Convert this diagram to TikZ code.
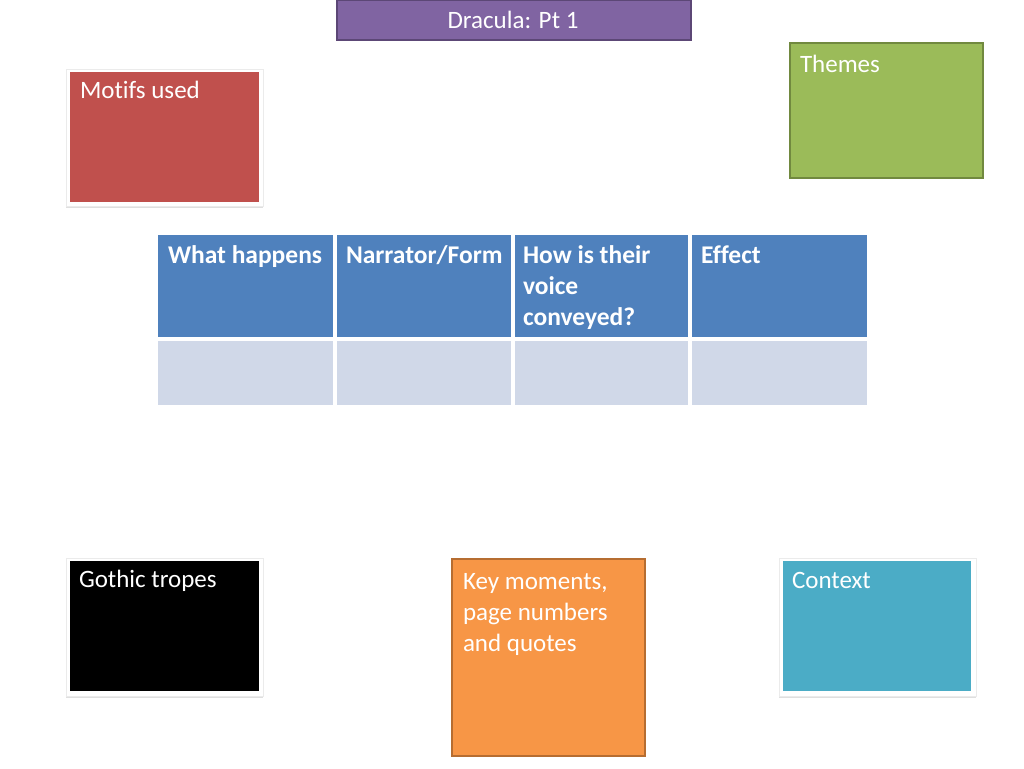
\documentclass[tikz,border=0pt]{standalone}
\usepackage{fontspec}
\setmainfont{Carlito}[Ligatures=NoCommon]
\usetikzlibrary{shadows}
\definecolor{cPurple}{HTML}{8064A2}
\definecolor{cPurpleD}{HTML}{5C4776}
\definecolor{cRed}{HTML}{C0504D}
\definecolor{cGreen}{HTML}{9BBB59}
\definecolor{cGreenD}{HTML}{71893F}
\definecolor{cHead}{HTML}{4F81BD}
\definecolor{cRow}{HTML}{D0D8E8}
\definecolor{cOrange}{HTML}{F79646}
\definecolor{cOrangeD}{HTML}{B66D31}
\definecolor{cCyan}{HTML}{4BACC6}
\tikzset{
  box/.style={rectangle, inner sep=0pt, outer sep=0pt},
  frame/.style={box, fill=white, draw=black!8, line width=0.8pt, drop shadow={opacity=0.25, shadow xshift=0pt, shadow yshift=-2pt}},
  label/.style={inner sep=0pt, outer sep=0pt, anchor=base west, text=white, align=left,
    font=\fontsize{25}{31}\selectfont},
  hlabel/.style={label, font=\fontsize{25.5}{31}\selectfont\bfseries},
  cell/.style={box, fill=cHead},
  rowcell/.style={box, fill=cRow},
}
\begin{document}
\begin{tikzpicture}[x=1pt,y=-1pt]
\useasboundingbox (0,0) rectangle (1024,768);
% title
\node[box, fill=cPurple, draw=cPurpleD, line width=2pt, minimum width=354pt, minimum height=40pt] (title) at (513.5,20.5) {};
\node[label, anchor=base] (titletxt) at (513,29) {Dracula: Pt 1};
% motifs
\node[frame, minimum width=197pt, minimum height=137pt] (motifsF) at (164.5,137.5) {};
\node[box, fill=cRed, minimum width=189pt, minimum height=130pt] (motifs) at (164.5,137) {};
\node[label] (motifstxt) at (80,98) {Motifs used};
% themes
\node[box, fill=cGreen, draw=cGreenD, line width=2pt, minimum width=193pt, minimum height=134pt] (themes) at (886,110.5) {};
\node[label] (themestxt) at (800,72) {Themes};
% table
\node[cell, minimum width=175pt, minimum height=102pt] (h1) at (245.5,286) {};
\node[cell, minimum width=174pt, minimum height=102pt] (h2) at (424,286) {};
\node[cell, minimum width=173pt, minimum height=102pt] (h3) at (601.5,286) {};
\node[cell, minimum width=175pt, minimum height=102pt] (h4) at (779.5,286) {};
\node[rowcell, minimum width=175pt, minimum height=64pt] (r1) at (245.5,373) {};
\node[rowcell, minimum width=174pt, minimum height=64pt] (r2) at (424,373) {};
\node[rowcell, minimum width=173pt, minimum height=64pt] (r3) at (601.5,373) {};
\node[rowcell, minimum width=175pt, minimum height=64pt] (r4) at (779.5,373) {};
\node[hlabel] (h1txt) at (168,263) {What happens};
\node[hlabel] (h2txt) at (346,263) {Narrator/Form};
\node[hlabel] (h3txt) at (523,325) {How is their\\voice\\conveyed?};
\node[hlabel] (h4txt) at (701,263) {Effect};
% gothic
\node[frame, minimum width=197pt, minimum height=138pt] (gothicF) at (164.5,627) {};
\node[box, fill=black, minimum width=189pt, minimum height=130pt] (gothic) at (164.5,626) {};
\node[label] (gothictxt) at (79,587) {Gothic tropes};
% key moments
\node[box, fill=cOrange, draw=cOrangeD, line width=2pt, minimum width=193pt, minimum height=197pt] (key) at (548,657) {};
\node[label] (keytxt) at (463,651) {Key moments,\\page numbers\\and quotes};
% context
\node[frame, minimum width=197pt, minimum height=138pt] (contextF) at (877.5,627) {};
\node[box, fill=cCyan, minimum width=188pt, minimum height=130pt] (context) at (877,626) {};
\node[label] (contexttxt) at (792,588) {Context};
\end{tikzpicture}
\end{document}
